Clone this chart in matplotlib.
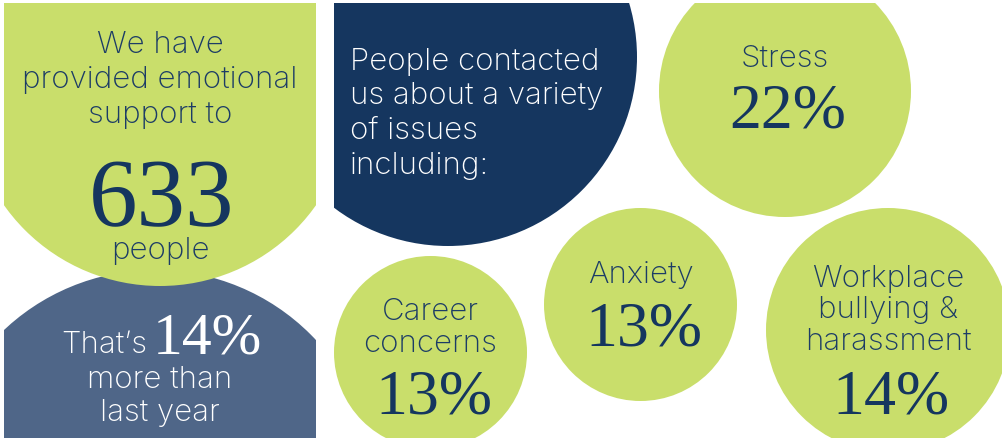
import matplotlib.pyplot as plt
from matplotlib.patches import Circle, Rectangle

# figures from the infographic
people_helped = 633
increase_pct = 14
intro_lines = ["We have", "provided emotional", "support to"]
issues_intro = ["People contacted", "us about a variety", "of issues", "including:"]
issue_names = ["Stress", "Anxiety", "Career\nconcerns", "Workplace\nbullying &\nharassment"]
issue_pcts = [22, 13, 13, 14]

GREEN = "#c9de6b"
NAVY = "#15365f"
SLATE = "#4f6688"
INK = "#1c3c66"
SANS = ["Inter", "DejaVu Sans"]
SERIF = ["Liberation Serif", "DejaVu Serif"]

fig = plt.figure(figsize=(10.06, 4.40), dpi=100)
ax = fig.add_axes([0, 0, 1, 1])
ax.set_xlim(0, 1006)
ax.set_ylim(440, 0)
ax.axis("off")

left_clip = Rectangle((4, 3), 312, 435, transform=ax.transData)
right_clip = Rectangle((334, 3), 668, 435, transform=ax.transData)


def blob(center, r, color, clip):
    c = Circle(center, r, color=color, lw=0)
    ax.add_patch(c)
    c.set_clip_path(clip)


def sans(x, y, s, color=INK, size=22.5, ha="center"):
    ax.text(x, y, s, family=SANS, fontweight="light", fontsize=size,
            color=color, ha=ha, va="baseline")


def serif(x, y, s, color=NAVY, size=46, ha="center"):
    ax.text(x, y, s, family=SERIF, fontsize=size, color=color,
            ha=ha, va="baseline")


# left panel
blob((155, 490), 220, SLATE, left_clip)
blob((160, 95), 191, GREEN, left_clip)
for i, line in enumerate(intro_lines):
    sans(160, 53 + i * 35, line)
serif(162, 226, str(people_helped), size=70)
sans(160, 259, "people")
sans(147, 353, "That\u2019s", color="white", ha="right")
serif(153, 353, f"{increase_pct}%", color="white", ha="left", size=43)
sans(160, 388, "more than", color="white")
sans(160, 421, "last year", color="white")

# issue bubbles
blob((448, 57), 189, NAVY, right_clip)
for i, line in enumerate(issues_intro):
    sans(350, 70 + i * 34.5, line, color="white", ha="left")

centers = [(785, 91), (640.5, 304.5), (430.5, 352.5), (888, 330)]
radii = [126, 96.5, 96.5, 122]
label_base = [67, 283, 320, 287]
pct_base = [128, 345, 413, 413]
for name, pct, c, r, lb, pb in zip(issue_names, issue_pcts, centers, radii,
                                   label_base, pct_base):
    blob(c, r, GREEN, right_clip)
    for j, line in enumerate(name.split("\n")):
        sans(c[0], lb + j * 31.5, line)
    serif(c[0] + 3, pb, f"{pct}%")

fig.savefig("out.png", dpi=100)
